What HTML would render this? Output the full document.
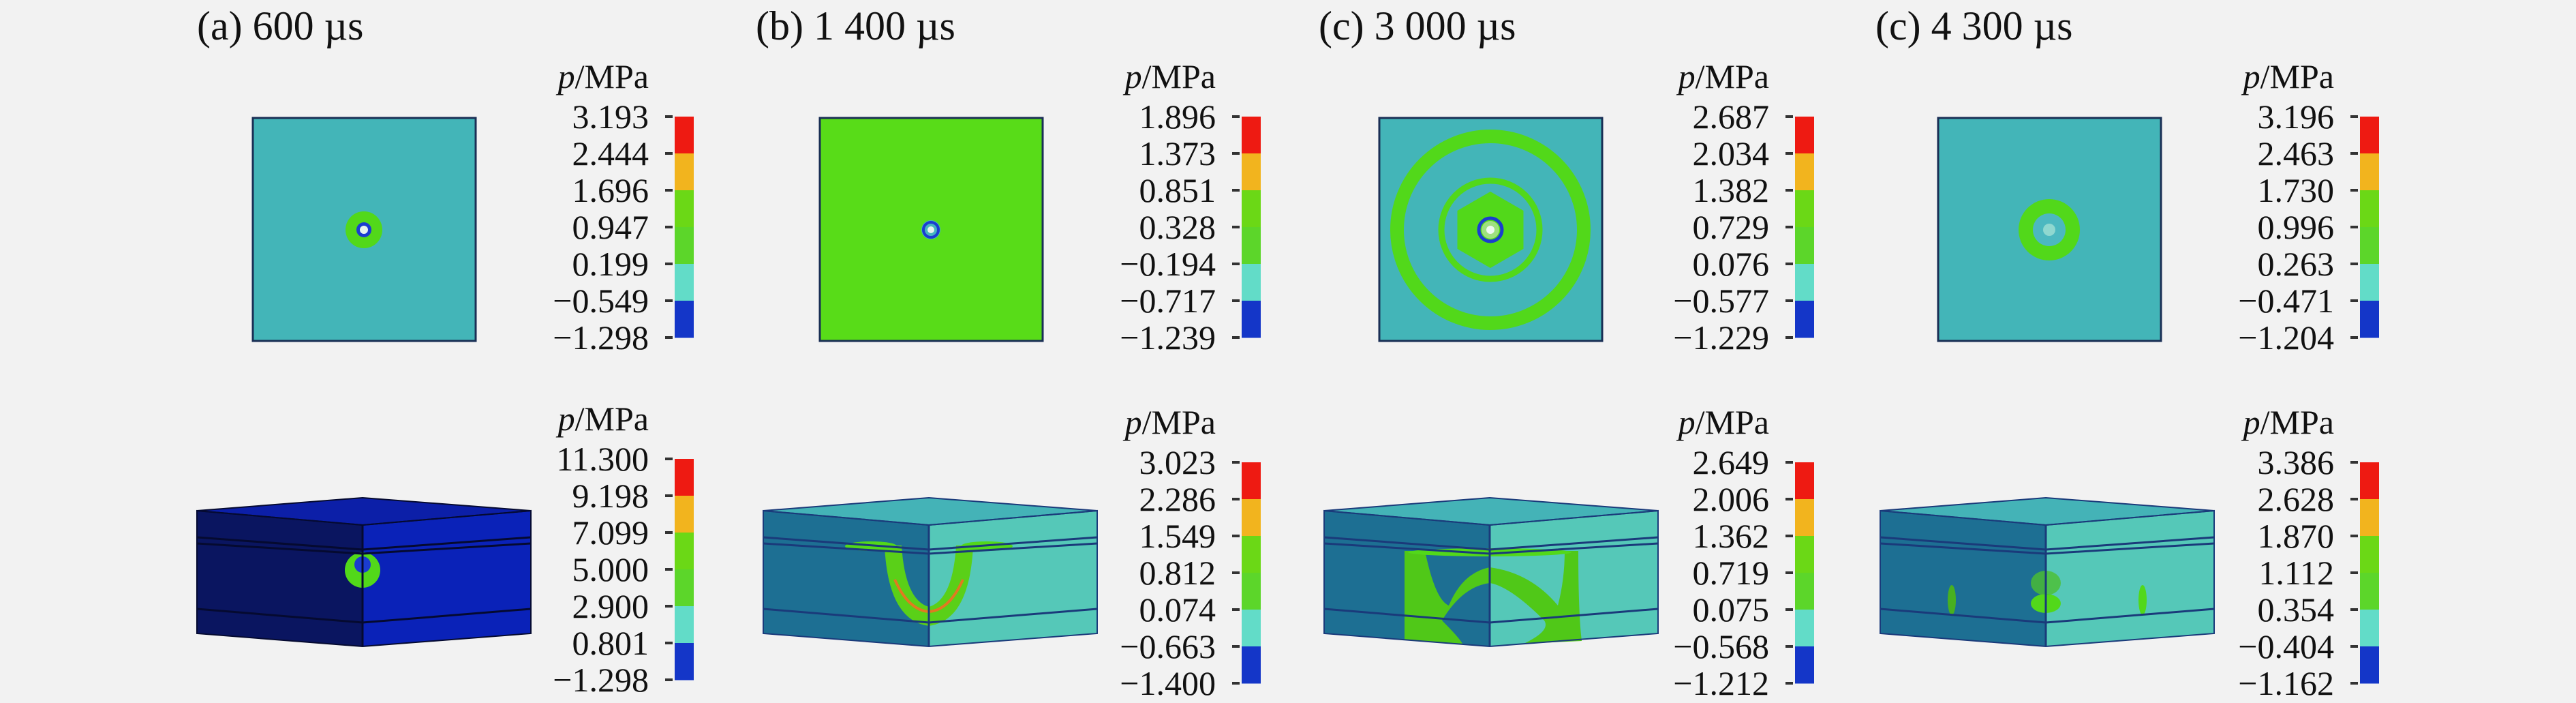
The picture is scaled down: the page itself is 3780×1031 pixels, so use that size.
<!DOCTYPE html>
<html><head><meta charset="utf-8">
<style>
html,body{margin:0;padding:0;background:#f2f2f2;}
svg{display:block;}
text{font-family:"Liberation Serif",serif;fill:#111;}
</style></head>
<body>
<svg id="fig" width="3780" height="1031" viewBox="0 0 3780 1031" xmlns="http://www.w3.org/2000/svg">
<rect width="3780" height="1031" fill="#f2f2f2"/>
<g id="root"></g>
</svg>
<script>
const panelTitles = ["(a) 600 \u00b5s", "(b) 1 400 \u00b5s", "(c) 3 000 \u00b5s", "(c) 4 300 \u00b5s"];
const topTicks = [
  ["3.193","2.444","1.696","0.947","0.199","\u22120.549","\u22121.298"],
  ["1.896","1.373","0.851","0.328","\u22120.194","\u22120.717","\u22121.239"],
  ["2.687","2.034","1.382","0.729","0.076","\u22120.577","\u22121.229"],
  ["3.196","2.463","1.730","0.996","0.263","\u22120.471","\u22121.204"]
];
const bottomTicks = [
  ["11.300","9.198","7.099","5.000","2.900","0.801","\u22121.298"],
  ["3.023","2.286","1.549","0.812","0.074","\u22120.663","\u22121.400"],
  ["2.649","2.006","1.362","0.719","0.075","\u22120.568","\u22121.212"],
  ["3.386","2.628","1.870","1.112","0.354","\u22120.404","\u22121.162"]
];
const barColors = ["#ee1a12","#f2b41e","#6bd816","#5cd62a","#62dcc8","#1436c8"];

const NS="http://www.w3.org/2000/svg";
const root=document.getElementById('root');
function mk(tag,attrs,parent){const e=document.createElementNS(NS,tag);for(const k in attrs)e.setAttribute(k,attrs[k]);(parent||root).appendChild(e);return e;}

const titleX=[289,1109,1935,2752];
const squareX=[371,1203,2024,2844];
const barX=[990,1822,2634,3463];
const boxX=[289,1120,1943,2759];

function colorbar(g,i,ticks,y0,step,labelRight,bx){
  const lab=mk('text',{x:labelRight,y:y0-42,'font-size':50,'text-anchor':'end'},g);
  
  
  lab.innerHTML='<tspan font-style="italic">p</tspan>/MPa';
  for(let k=0;k<6;k++){
    const seg=mk('rect',{x:bx,y:y0+k*step,width:28,height:step+0.5,fill:barColors[k]},g);
    
    
  }
  ticks.forEach((t,k)=>{
    const y=y0+k*step;
    const tx=mk('text',{x:labelRight,y:y+17,'font-size':50,'text-anchor':'end'},g);
    
    
    tx.textContent=t;
    const tm=mk('line',{x1:bx-14,x2:bx-3,y1:y,y2:y,stroke:'#333','stroke-width':4},g);
    
    
  });
}

panelTitles.forEach((t,i)=>{
  const g=mk('g',{});
  
  
  const tt=mk('text',{x:titleX[i],y:58,'font-size':60},g);
  
  
  tt.textContent=t;

  // top plan view
  const sx=squareX[i], cx=sx+163, cy=337;
  const bg = i===1 ? '#58dc18' : '#43b5b8';
  const sq=mk('rect',{x:sx,y:173,width:327,height:327,fill:bg,stroke:'#1a2f55','stroke-width':3},g);
  
  
  const G='#52d81a';
  if(i===0){
    mk('circle',{cx,cy,r:27,fill:G},g);
    mk('circle',{cx,cy,r:11,fill:'#1b3cd0'},g);
    mk('circle',{cx,cy,r:6,fill:'#e8f4f0'},g);
  } else if(i===1){
    mk('circle',{cx,cy,r:14,fill:'#45b5c0'},g);
    mk('circle',{cx,cy,r:11,fill:'none',stroke:'#1b3cd0','stroke-width':4},g);
    mk('circle',{cx,cy,r:5,fill:'#e8f4f0'},g);
  } else if(i===2){
    mk('circle',{cx,cy,r:137,fill:'none',stroke:G,'stroke-width':20},g);
    mk('circle',{cx,cy,r:72,fill:'none',stroke:G,'stroke-width':9},g);
    mk('polygon',{points:[0,1,2,3,4,5].map(k=>{const a=Math.PI/3*k+Math.PI/6;return (cx+56*Math.cos(a))+','+(cy+56*Math.sin(a));}).join(' '),fill:G},g);
    mk('circle',{cx,cy,r:17,fill:'none',stroke:'#1b3cd0','stroke-width':5},g);
    mk('circle',{cx,cy,r:13,fill:'#9fe080'},g);
    mk('circle',{cx,cy,r:6,fill:'#eef8f0'},g);
  } else {
    mk('circle',{cx,cy,r:45,fill:G},g);
    mk('circle',{cx,cy,r:24,fill:'#4cb8c0'},g);
    mk('circle',{cx,cy,r:9,fill:'#8fd8d0'},g);
  }
  colorbar(g,i,topTicks[i],171,54,barX[i]-38,barX[i]);

  // bottom 3D box
  const L=boxX[i], R=L+490, C=L+243;
  const dark=i===0, leftF=dark?'#0a1560':'#1d6f93', rightF=dark?'#0a22b8':'#55c8b8', topF=dark?'#0c1fa8':'#44b3b7', ln=dark?'#050a30':'#1a3a7a';
  const box=mk('g',{},g);
  
  
  mk('polygon',{points:`${L},749 ${C},770 ${C},948 ${L},929`,fill:leftF},box);
  mk('polygon',{points:`${C},770 ${R},749 ${R},929 ${C},948`,fill:rightF},box);
  mk('polygon',{points:`${L},749 ${C},730 ${R},749 ${C},770`,fill:topF,stroke:ln,'stroke-width':2},box);
  if(i===0){
    mk('circle',{cx:C,cy:836,r:26,fill:G},box);
    mk('circle',{cx:C,cy:828,r:12,fill:'#1b3cd0'},box);
  } else if(i===1){
    mk('path',{d:`M${C-65},${800} Q${C-60},${910} ${C},${918} Q${C+60},${910} ${C+65},${800} L${C+40},${800} Q${C+35},${880} ${C},${890} Q${C-35},${880} ${C-40},${800} Z`,fill:'#5ad018'},box);
    mk('path',{d:`M${C-50},${850} Q${C-30},${895} ${C},${897} Q${C+30},${895} ${C+50},${850}`,fill:'none',stroke:'#e07a20','stroke-width':4},box);
    mk('ellipse',{cx:C-85,cy:801,rx:38,ry:7,fill:G},box);
    mk('ellipse',{cx:C+85,cy:801,rx:38,ry:7,fill:G},box);
  } else if(i===2){
    mk('path',{d:`M${C-125},${808} L${C-95},${808} Q${C-80},${880} ${C-60},${888} Q${C-40},${840} ${C},${832} Q${C+60},${840} ${C+100},${888} Q${C+110},${850} ${C+110},${808} L${C+130},${808} Q${C+130},${900} ${C+135},${940} L${C+50},${944} Q${C+90},${925} ${C+80},${910} Q${C+30},${860} ${C},${855} Q${C-40},${860} ${C-70},${910} Q${C-45},${935} ${C-40},${944} L${C-125},${938} Z`,fill:'#50c818'},box);
    mk('ellipse',{cx:C,cy:810,rx:120,ry:6,fill:G},box);
  } else {
    mk('ellipse',{cx:C,cy:885,rx:22,ry:14,fill:G},box);
    mk('ellipse',{cx:C,cy:855,rx:22,ry:18,fill:'#4cbf30',opacity:0.8},box);
    mk('ellipse',{cx:L+105,cy:880,rx:6,ry:22,fill:'#48b020'},box);
    mk('ellipse',{cx:R-105,cy:880,rx:6,ry:22,fill:G},box);
  }
  [[788,806],[797,812],[893,913]].forEach(([a,b])=>{
    mk('polyline',{points:`${L},${a} ${C},${b} ${R},${a}`,fill:'none',stroke:ln,'stroke-width':3},box);
  });
  mk('line',{x1:C,y1:770,x2:C,y2:948,stroke:ln,'stroke-width':3},box);
  mk('polygon',{points:`${L},749 ${C},770 ${R},749 ${R},929 ${C},948 ${L},929`,fill:'none',stroke:ln,'stroke-width':2},box);
  colorbar(g,i,bottomTicks[i],i===0?673:678,54,barX[i]-38,barX[i]);
});
</script>
</body></html>
